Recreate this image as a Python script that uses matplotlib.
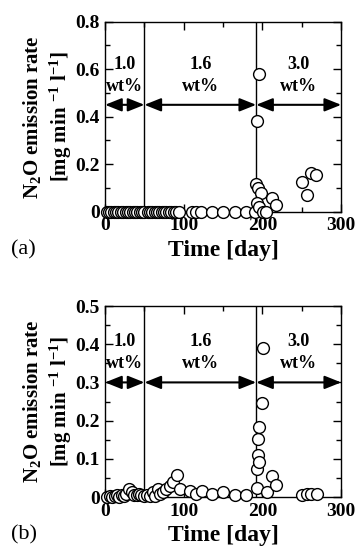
import matplotlib
matplotlib.use('Agg')
import matplotlib.pyplot as plt
from matplotlib.ticker import MultipleLocator, FuncFormatter

plt.rcParams['font.family'] = ['Liberation Serif', 'DejaVu Serif']
plt.rcParams['mathtext.fontset'] = 'custom'
plt.rcParams['mathtext.rm'] = 'Liberation Serif:bold'
plt.rcParams['mathtext.bf'] = 'Liberation Serif:bold'
plt.rcParams['mathtext.it'] = 'Liberation Serif:bold'

# Panel (a) data
days_a = [2, 5, 8, 11, 14, 17, 20, 23, 26, 29, 32, 35, 38, 41, 44, 47, 50,
          54, 57, 60, 63, 66, 69, 72, 75, 78, 81, 84, 87, 90, 94,
          110, 116, 122, 136, 150, 165, 179, 190,
          192, 193, 195, 194, 198, 193, 196, 201, 205, 212, 217,
          250, 256, 262, 268]
rate_a = [0, 0, 0, 0, 0, 0, 0, 0, 0, 0, 0, 0, 0, 0, 0, 0, 0,
          0, 0, 0, 0, 0, 0, 0, 0, 0, 0, 0, 0, 0, 0,
          0, 0, 0, 0, 0, 0, 0, 0,
          0.115, 0.38, 0.58, 0.098, 0.079, 0.035, 0.021, 0.0, 0.0, 0.056, 0.027,
          0.125, 0.07, 0.163, 0.156]

# Panel (b) data
days_b = [3, 6, 9, 12, 15, 18, 21, 24, 27, 31, 34, 37, 40, 43, 46, 49,
          53, 57, 61, 64, 67, 70, 74, 78, 83, 86, 91, 95,
          108, 116, 123, 136, 150, 165, 179,
          193, 193, 194, 194, 196, 196, 199, 201, 206, 212, 217,
          250, 256, 262, 269]
rate_b = [0.0, 0.002, 0.0, 0.003, 0.004, 0.0, 0.006, 0.003, 0.008, 0.021, 0.012, 0.004, 0.006, 0.009, 0.004, 0.003,
          0.004, 0.002, 0.014, 0.003, 0.02, 0.008, 0.013, 0.021, 0.03, 0.04, 0.057, 0.021,
          0.017, 0.008, 0.017, 0.008, 0.014, 0.004, 0.004,
          0.024, 0.074, 0.111, 0.151, 0.091, 0.184, 0.246, 0.39, 0.013, 0.055, 0.032,
          0.005, 0.007, 0.008, 0.007]

# period boundaries and labels
boundaries = [0, 50, 192, 300]
period_x = [25, 121, 246]
period_labels = ['1.0', '1.6', '3.0']


def fmt(v, pos):
    return '0' if abs(v) < 1e-9 else f'{v:.1f}'


def draw_panel(ax, days, rate, ymax, ymajor, arrow_y, num_y, wt_y, tag):
    ax.set_xlim(0, 300)
    ax.set_ylim(0, ymax)
    for b in boundaries[1:3]:
        ax.axvline(b, color='black', lw=1.0, zorder=1)
    for i in range(3):
        ax.annotate('', xy=(boundaries[i], arrow_y), xytext=(boundaries[i + 1], arrow_y),
                    arrowprops=dict(arrowstyle='<|-|>,head_length=1.0,head_width=0.4',
                                    color='black', lw=1.5, shrinkA=0, shrinkB=0),
                    annotation_clip=False)
        ax.text(period_x[i], num_y, period_labels[i], ha='center', va='center',
                fontsize=13, fontweight='bold')
        ax.text(period_x[i], wt_y, 'wt%', ha='center', va='center',
                fontsize=13, fontweight='bold')
    ax.plot(days, rate, 'o', ms=8.5, mfc='white', mec='black', mew=1.0,
            clip_on=False, zorder=3)
    ax.xaxis.set_major_locator(MultipleLocator(100))
    ax.xaxis.set_minor_locator(MultipleLocator(50))
    ax.yaxis.set_major_locator(MultipleLocator(ymajor))
    ax.yaxis.set_minor_locator(MultipleLocator(ymajor / 2))
    ax.yaxis.set_major_formatter(FuncFormatter(fmt))
    ax.tick_params(which='both', direction='in', top=True, right=True, width=1.0)
    ax.tick_params(which='major', length=6, labelsize=14, pad=4)
    ax.tick_params(which='minor', length=3.5)
    for lab in ax.get_xticklabels() + ax.get_yticklabels():
        lab.set_fontweight('bold')
    for s in ax.spines.values():
        s.set_linewidth(1.0)
    ax.set_xlabel('Time [day]', fontsize=17, fontweight='bold', labelpad=4)
    ax.set_ylabel('N$_2$O emission rate\n[mg min $^{-1}$ l$^{-1}$]',
                  fontsize=15, fontweight='bold', linespacing=1.25, labelpad=1)
    ax.text(-0.40, -0.2, tag, transform=ax.transAxes, fontsize=16, va='center', ha='left')


fig = plt.figure(figsize=(3.55, 5.49), dpi=100)
ax1 = fig.add_axes([0.296, 0.6144, 0.665, 0.3461])
ax2 = fig.add_axes([0.296, 0.0947, 0.665, 0.3479])

draw_panel(ax1, days_a, rate_a, 0.8, 0.2, 0.45, 0.62, 0.527, '(a)')
draw_panel(ax2, days_b, rate_b, 0.5, 0.1, 0.3, 0.407, 0.35, '(b)')

fig.savefig('out.png', dpi=100)
